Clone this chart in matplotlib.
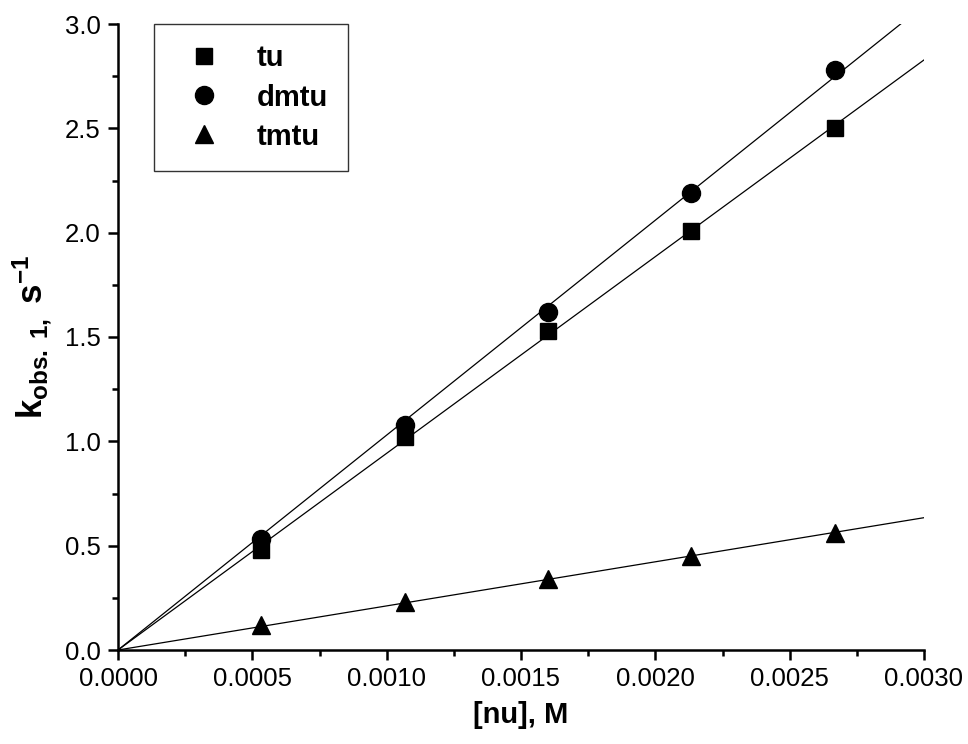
import numpy as np
import matplotlib
matplotlib.use("Agg")
import matplotlib.pyplot as plt
from matplotlib.ticker import MultipleLocator, FormatStrFormatter

plt.rcParams['font.family'] = ['Liberation Sans', 'DejaVu Sans']
plt.rcParams['mathtext.fontset'] = 'custom'
plt.rcParams['mathtext.rm'] = 'Liberation Sans'
plt.rcParams['mathtext.bf'] = 'Liberation Sans:bold'
plt.rcParams['mathtext.it'] = 'Liberation Sans:italic'

conc = [0.000533, 0.001067, 0.0016, 0.002133, 0.002667]
tu = [0.48, 1.02, 1.53, 2.01, 2.50]
dmtu = [0.53, 1.08, 1.62, 2.19, 2.78]
tmtu = [0.12, 0.23, 0.34, 0.45, 0.56]
series_names = ['tu', 'dmtu', 'tmtu']
markers = ['s', 'o', '^']

fig = plt.figure(figsize=(9.68, 7.44), dpi=100)
ax = fig.add_axes([118/968, 94/744, 806/968, 626/744])

x = np.array(conc)
xfit = np.array([0.0, 0.003])
handles = []
sizes = {'s': 12, 'o': 13, '^': 13}
for name, ys, m in zip(series_names, [tu, dmtu, tmtu], markers):
    y = np.array(ys)
    slope = np.sum(x*y)/np.sum(x*x)
    ax.plot(xfit, slope*xfit, color='black', lw=0.9, zorder=2)
    h, = ax.plot(x, y, linestyle='none', marker=m, color='black',
                 markersize=sizes[m], zorder=3, label=name)
    handles.append(h)

ax.set_xlim(0, 0.003)
ax.set_ylim(0, 3.0)
ax.xaxis.set_major_locator(MultipleLocator(0.0005))
ax.xaxis.set_minor_locator(MultipleLocator(0.00025))
ax.yaxis.set_major_locator(MultipleLocator(0.5))
ax.yaxis.set_minor_locator(MultipleLocator(0.25))
ax.xaxis.set_major_formatter(FormatStrFormatter('%.4f'))
ax.yaxis.set_major_formatter(FormatStrFormatter('%.1f'))

for s in ['top', 'right']:
    ax.spines[s].set_visible(False)
for s in ['left', 'bottom']:
    ax.spines[s].set_linewidth(1.8)

ax.tick_params(which='major', direction='out', length=7.5, width=1.8, labelsize=18.5, pad=5)
ax.tick_params(which='minor', direction='out', length=4.5, width=1.8)

ax.set_xlabel('[nu], M', fontsize=21, fontweight='bold', labelpad=7)
ax.set_ylabel(r'$\mathbf{k_{obs.\ 1,}\ s^{-1}}$', fontsize=25, labelpad=8)

leg = ax.legend(handles=handles, loc='upper left', bbox_to_anchor=(0.045, 1.0),
                frameon=True, fancybox=False, edgecolor='black',
                handlelength=2.0, handletextpad=0.8, borderpad=0.7, labelspacing=0.38,
                borderaxespad=0.0, prop={'weight': 'bold', 'size': 21})
leg.get_frame().set_linewidth(1.0)

fig.savefig('out.png', dpi=100)
